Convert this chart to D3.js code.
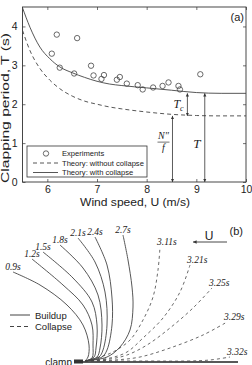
<!DOCTYPE html>
<html>
<head>
<meta charset="utf-8">
<script src="https://cdn.jsdelivr.net/npm/d3@7"></script>
<style>
body { margin: 0; background: #fff; }
svg { display: block; }
text { fill: #222; }
</style>
</head>
<body>
<svg width="252" height="365"></svg>
<script>
// Clapping period vs wind speed (a) and flag shapes over one cycle (b)

// ---- panel (a) data ----
var expU = [6.09, 6.19, 6.25, 6.54, 6.6, 6.88, 6.93, 7.09, 7.14, 7.4, 7.46, 7.6, 7.82, 7.92, 8.13, 8.32, 8.44, 8.64, 8.67, 9.08];
var expT = [3.30, 3.79, 2.94, 2.79, 3.70, 2.99, 2.74, 2.65, 2.75, 2.63, 2.70, 2.53, 2.49, 2.38, 2.43, 2.47, 2.56, 2.47, 2.38, 2.77];

var theoryU = [5.5, 5.65, 5.85, 6.05, 6.25, 6.5, 6.75, 7, 7.25, 7.5, 8, 8.5, 9, 9.5, 10];
var withCollapse = [4.48, 3.98, 3.47, 3.17, 2.96, 2.81, 2.69, 2.59, 2.52, 2.48, 2.42, 2.36, 2.30, 2.28, 2.28];
var withoutCollapse = [3.90, 3.38, 2.92, 2.62, 2.40, 2.21, 2.08, 2.00, 1.93, 1.88, 1.80, 1.74, 1.71, 1.70, 1.70];

var xTicks = [6, 7, 8, 9, 10];
var yTicks = [0, 1, 2, 3, 4];

// arrows: wind speed where drawn, from / to period
var arrowNames = ["Tc", "Nf", "T"];
var arrowU = [8.82, 8.52, 9.17];
var arrowFrom = [2.28, 1.70, 2.28];
var arrowTo = [1.70, 0, 0];

var legendA = ["Experiments", "Theory: without collapse", "Theory: with collapse"];

// ---- panel (b) data: flag centre lines, offsets from the clamp ----
var buildupTimes = ["0.9s", "1.2s", "1.5s", "1.8s", "2.1s", "2.4s", "2.7s"];
var buildupShapes = [
	[[0,0],[3,4],[4,16],[-2,36],[-18,56],[-45,76],[-72,89]],
	[[0,0],[7,3],[8,16],[7,36],[-2,56],[-22,76],[-53,102]],
	[[0,0],[9,4],[11,13],[12,36],[7,59],[-12,83],[-42,109]],
	[[0,0],[12,4],[15,13],[17,36],[13,66],[-2,93],[-25,116]],
	[[0,0],[14,4],[18,11],[22,36],[20,69],[10,99],[-7,123]],
	[[0,0],[17,4],[22,11],[27,36],[27,63],[22,96],[10,124]],
	[[0,0],[22,4],[35,14],[45,31],[48,54],[47,74],[43,101],[38,126]]
];
var collapseTimes = ["3.11s", "3.21s", "3.25s", "3.29s", "3.32s"];
var collapseShapes = [
	[[0,0],[15,4],[28,9],[45,21],[58,41],[68,64],[73,91],[75,114]],
	[[0,0],[25,3],[42,9],[58,23],[78,43],[95,69],[105,96]],
	[[0,0],[25,2],[42,6],[62,16],[85,33],[108,53],[127,73]],
	[[0,0],[30,1],[55,4],[85,13],[118,26],[142,39]],
	[[0,0],[60,0],[102,0],[125,1],[145,4]]
];
var legendB = ["Buildup", "Collapse"];

var svg = d3.select("svg");
var ink = "#333";
var sans = "'Liberation Sans', Arial, sans-serif";
var serif = "'Liberation Serif', 'Times New Roman', serif";

// ================= panel (a) =================
var x = d3.scaleLinear().domain([5.5, 10]).range([22.5, 246]);
var y = d3.scaleLinear().domain([0, 4.5]).range([182, 7]);

var pa = svg.append("g");

pa.append("g")
	.attr("transform", "translate(0,182)")
	.call(d3.axisBottom(x).tickValues(xTicks).tickFormat(d3.format("d")).tickSizeInner(-3).tickSizeOuter(0).tickPadding(4))
	.call(g => g.select(".domain").remove());
pa.append("g")
	.attr("transform", "translate(22.5,0)")
	.call(d3.axisLeft(y).tickValues(yTicks).tickFormat(d3.format("d")).tickSizeInner(-3).tickSizeOuter(0).tickPadding(5))
	.call(g => g.select(".domain").remove());
pa.append("g")
	.attr("transform", "translate(0,7)")
	.call(d3.axisTop(x).tickValues(xTicks).tickSizeInner(-3).tickSizeOuter(0).tickFormat(""))
	.call(g => g.select(".domain").remove());
pa.append("g")
	.attr("transform", "translate(246,0)")
	.call(d3.axisRight(y).tickValues(yTicks).tickSizeInner(-3).tickSizeOuter(0).tickFormat(""))
	.call(g => g.select(".domain").remove());

pa.selectAll(".tick line").attr("stroke", ink).attr("stroke-width", 0.7);
pa.selectAll(".tick text").attr("font-family", sans).attr("font-size", 10.5).attr("fill", "#222");

pa.append("rect")
	.attr("x", x(5.5)).attr("y", y(4.5))
	.attr("width", x(10) - x(5.5)).attr("height", y(0) - y(4.5))
	.attr("fill", "none").attr("stroke", ink).attr("stroke-width", 0.9);

svg.append("clipPath").attr("id", "clipA")
	.append("rect")
	.attr("x", x(5.5)).attr("y", y(4.5))
	.attr("width", x(10) - x(5.5)).attr("height", y(0) - y(4.5));

var theoryLine = d3.line()
	.x(d => x(d[0]))
	.y(d => y(d[1]))
	.curve(d3.curveMonotoneX);

pa.append("path")
	.attr("clip-path", "url(#clipA)")
	.attr("d", theoryLine(theoryU.map((u, i) => [u, withoutCollapse[i]])))
	.attr("fill", "none").attr("stroke", "#444").attr("stroke-width", 0.9)
	.attr("stroke-dasharray", "4,3");
pa.append("path")
	.attr("clip-path", "url(#clipA)")
	.attr("d", theoryLine(theoryU.map((u, i) => [u, withCollapse[i]])))
	.attr("fill", "none").attr("stroke", "#444").attr("stroke-width", 0.9);

pa.selectAll("circle.exp")
	.data(expU.map((u, i) => [u, expT[i]]))
	.enter().append("circle")
	.attr("class", "exp")
	.attr("cx", d => x(d[0]))
	.attr("cy", d => y(d[1]))
	.attr("r", 2.7)
	.attr("fill", "none").attr("stroke", "#444").attr("stroke-width", 0.8);

// double headed arrows
var defs = svg.append("defs");
defs.append("marker")
	.attr("id", "head")
	.attr("viewBox", "0 0 10 10")
	.attr("refX", 10).attr("refY", 5)
	.attr("markerWidth", 4).attr("markerHeight", 5)
	.attr("orient", "auto-start-reverse")
	.append("path")
	.attr("d", "M0,0 L10,5 L0,10 z")
	.attr("fill", ink);

pa.selectAll("line.arrow")
	.data(arrowNames)
	.enter().append("line")
	.attr("class", "arrow")
	.attr("x1", (d, i) => x(arrowU[i]))
	.attr("x2", (d, i) => x(arrowU[i]))
	.attr("y1", (d, i) => y(arrowFrom[i]))
	.attr("y2", (d, i) => y(arrowTo[i]))
	.attr("stroke", ink).attr("stroke-width", 0.8)
	.attr("marker-start", "url(#head)")
	.attr("marker-end", "url(#head)");

// T_c
var tc = pa.append("text")
	.attr("x", x(arrowU[0]) - 14).attr("y", y(2.0) + 4)
	.attr("font-family", serif).attr("font-style", "italic").attr("font-size", 12);
tc.append("tspan").text("T");
tc.append("tspan").attr("font-size", 8).attr("dy", 3).text("c");

// N''/f
pa.append("text")
	.attr("x", x(arrowU[1]) - 9).attr("y", y(1.0) - 4)
	.attr("text-anchor", "middle")
	.attr("font-family", serif).attr("font-style", "italic").attr("font-size", 10)
	.text("N\u2033");
pa.append("line")
	.attr("x1", x(arrowU[1]) - 15).attr("x2", x(arrowU[1]) - 3)
	.attr("y1", y(1.0) - 1).attr("y2", y(1.0) - 1)
	.attr("stroke", ink).attr("stroke-width", 0.7);
pa.append("text")
	.attr("x", x(arrowU[1]) - 9).attr("y", y(1.0) + 8)
	.attr("text-anchor", "middle")
	.attr("font-family", serif).attr("font-style", "italic").attr("font-size", 10)
	.text("f");

pa.append("text")
	.attr("x", x(arrowU[2]) - 8).attr("y", y(0.88))
	.attr("text-anchor", "middle")
	.attr("font-family", serif).attr("font-style", "italic").attr("font-size", 13)
	.text("T");

pa.append("text")
	.attr("x", 244).attr("y", 21)
	.attr("text-anchor", "end")
	.attr("font-family", sans).attr("font-size", 11)
	.text("(a)");

// legend (a)
var lg = pa.append("g").attr("transform", "translate(27,146)");
lg.append("rect")
	.attr("width", 120).attr("height", 31)
	.attr("fill", "#fff").attr("stroke", ink).attr("stroke-width", 0.8);
legendA.forEach((name, i) => {
	var yy = 7.5 + i * 9.5;
	if (i == 0) {
		lg.append("circle").attr("cx", 19).attr("cy", yy).attr("r", 2.7)
			.attr("fill", "none").attr("stroke", "#444").attr("stroke-width", 0.8);
	} else {
		lg.append("line").attr("x1", 6).attr("x2", 31).attr("y1", yy).attr("y2", yy)
			.attr("stroke", "#444").attr("stroke-width", 0.9)
			.attr("stroke-dasharray", i == 1 ? "4,3" : null);
	}
	lg.append("text").attr("x", 35).attr("y", yy + 2.7)
		.attr("font-family", sans).attr("font-size", 7.6)
		.text(name);
});

// axis titles
pa.append("text")
	.attr("x", 135).attr("y", 206)
	.attr("text-anchor", "middle")
	.attr("font-family", sans).attr("font-size", 11.5)
	.attr("textLength", 110).attr("lengthAdjust", "spacingAndGlyphs")
	.text("Wind speed, U (m/s)");
pa.append("text")
	.attr("transform", "translate(9,108) rotate(-90)")
	.attr("text-anchor", "middle")
	.attr("font-family", sans).attr("font-size", 11)
	.attr("textLength", 150).attr("lengthAdjust", "spacingAndGlyphs")
	.text("Clapping period, T (s)");

// ================= panel (b) =================
var xb = d3.scaleLinear().domain([-85, 167]).range([0, 252]);
var yb = d3.scaleLinear().domain([0, 140]).range([361, 221]);
var pb = svg.append("g");

var flagLine = d3.line()
	.x(d => xb(d[0]))
	.y(d => yb(d[1]))
	.curve(d3.curveCatmullRom.alpha(0.5));

// flag at rest along the bottom
pb.append("line")
	.attr("x1", xb(-5)).attr("x2", xb(153))
	.attr("y1", yb(-1)).attr("y2", yb(-1))
	.attr("stroke", "#222").attr("stroke-width", 1.6);
pb.append("rect")
	.attr("x", xb(-11)).attr("y", yb(1.5))
	.attr("width", 9).attr("height", 4)
	.attr("fill", "#333");
pb.append("text")
	.attr("x", xb(-13)).attr("y", 366)
	.attr("text-anchor", "end")
	.attr("font-family", sans).attr("font-size", 10)
	.text("clamp");

pb.selectAll("path.buildup")
	.data(buildupShapes)
	.enter().append("path")
	.attr("class", "buildup")
	.attr("d", flagLine)
	.attr("fill", "none").attr("stroke", "#444").attr("stroke-width", 0.9);

pb.selectAll("path.collapse")
	.data(collapseShapes)
	.enter().append("path")
	.attr("class", "collapse")
	.attr("d", flagLine)
	.attr("fill", "none").attr("stroke", "#444").attr("stroke-width", 0.8)
	.attr("stroke-dasharray", "3,3");

pb.selectAll("text.bt")
	.data(buildupTimes)
	.enter().append("text")
	.attr("class", "bt")
	.attr("x", (d, i) => xb(buildupShapes[i][buildupShapes[i].length - 1][0]))
	.attr("y", (d, i) => yb(buildupShapes[i][buildupShapes[i].length - 1][1]) - 2.5)
	.attr("text-anchor", "middle")
	.attr("font-family", serif).attr("font-style", "italic").attr("font-size", 9.5)
	.attr("fill", "#333")
	.text(d => d);

pb.selectAll("text.ct")
	.data(collapseTimes)
	.enter().append("text")
	.attr("class", "ct")
	.attr("x", (d, i) => xb(collapseShapes[i][collapseShapes[i].length - 1][0]) - 3)
	.attr("y", (d, i) => yb(collapseShapes[i][collapseShapes[i].length - 1][1]) - 2)
	.attr("font-family", serif).attr("font-style", "italic").attr("font-size", 9.5)
	.attr("fill", "#333")
	.text(d => d);

// wind arrow
pb.append("text")
	.attr("x", 209).attr("y", 240)
	.attr("text-anchor", "middle")
	.attr("font-family", sans).attr("font-size", 12)
	.text("U");
pb.append("line")
	.attr("x1", 227).attr("x2", 193)
	.attr("y1", 242).attr("y2", 242)
	.attr("stroke", ink).attr("stroke-width", 0.9)
	.attr("marker-end", "url(#head)");

pb.append("text")
	.attr("x", 243).attr("y", 235)
	.attr("text-anchor", "end")
	.attr("font-family", sans).attr("font-size", 11)
	.text("(b)");

// legend (b)
legendB.forEach((name, i) => {
	var yy = 315 + i * 11.5;
	pb.append("line").attr("x1", 10).attr("x2", 30).attr("y1", yy).attr("y2", yy)
		.attr("stroke", "#444").attr("stroke-width", 1)
		.attr("stroke-dasharray", i == 1 ? "4,3" : null);
	pb.append("text").attr("x", 35).attr("y", yy + 3.5)
		.attr("font-family", sans).attr("font-size", 9.5)
		.text(name);
});
</script>
</body>
</html>
